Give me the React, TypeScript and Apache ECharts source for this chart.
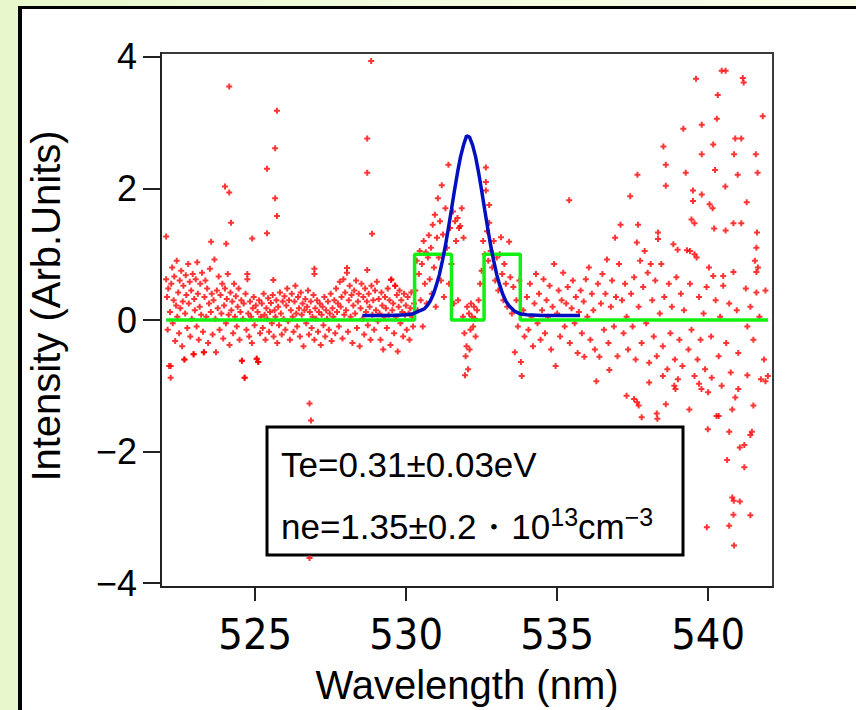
import React, { useEffect, useRef } from "react";
import * as echarts from "echarts";

// ---- axis ticks ----
const xTicks = [525, 530, 535, 540];
const yTicks = [-4, -2, 0, 2, 4];

// ---- green step (instrument function) ----
const stepX = [522.05, 530.28, 530.28, 531.5, 531.5, 532.58, 532.58, 533.78, 533.78, 541.99];
const stepY = [0, 0, 1, 1, 0, 0, 1, 1, 0, 0];

// ---- blue fitted curve ----
const fitX = [528.55, 529.0, 529.5, 530.0, 530.2, 530.4, 530.6, 530.7, 530.8, 530.9, 531.0, 531.1, 531.2, 531.3, 531.4, 531.5, 531.6, 531.7, 531.8, 531.9, 532.0, 532.1, 532.2, 532.3, 532.4, 532.5, 532.6, 532.7, 532.8, 532.9, 533.0, 533.1, 533.2, 533.3, 533.4, 533.6, 533.8, 534.0, 534.5, 535.0, 535.76];
const fitY = [0.07, 0.07, 0.07, 0.08, 0.09, 0.13, 0.17, 0.22, 0.29, 0.39, 0.53, 0.69, 0.90, 1.13, 1.40, 1.68, 1.97, 2.24, 2.48, 2.66, 2.80, 2.78, 2.66, 2.48, 2.24, 1.97, 1.68, 1.40, 1.13, 0.90, 0.69, 0.53, 0.39, 0.29, 0.22, 0.13, 0.09, 0.08, 0.07, 0.07, 0.07];

// ---- measured points ----
const pointsLeft: number[][] = [
  [522.05, 0.62], [522.08, 0.35], [522.1, -0.15], [522.12, 0.48], [522.15, -0.7], [522.18, 0.12], [522.2, -0.88], [522.22, 0.55], [522.25, 0.8], [522.27, -0.05],
  [522.3, 0.3], [522.32, 0.66], [522.35, -0.32], [522.38, 0.22], [522.4, 0.9], [522.42, 0.05], [522.45, 0.42], [522.48, -0.2], [522.5, 0.6], [522.52, 0.18],
  [522.55, 0.75], [522.58, -0.4], [522.6, 0.28], [522.62, 0.52], [522.65, -0.6], [522.68, 0.1], [522.7, 0.68], [522.72, 0.38], [522.75, -0.12], [522.78, 0.85],
  [522.8, 0.25], [522.83, 0.58], [522.85, -0.25], [522.88, 0.45], [522.9, 0.02], [522.93, 0.7], [522.96, -0.52], [522.98, 0.32], [523.0, 0.15], [523.03, 0.62],
  [523.06, -0.1], [523.08, 0.88], [523.1, 0.4], [523.13, -0.3], [523.16, 0.2], [523.18, 0.55], [523.21, 0.08], [523.24, 0.72], [523.27, -0.18], [523.3, -0.49],
  [523.32, 0.35], [523.35, 0.6], [523.38, 0.05], [523.41, 0.48], [523.44, -0.35], [523.47, 0.25], [523.5, 0.78], [523.53, 0.12], [523.56, 0.4], [523.59, -0.22],
  [523.62, 0.3], [523.65, 0.92], [523.68, 0.02], [523.7, -0.49], [523.73, 0.45], [523.76, 0.18], [523.79, 0.66], [523.82, -0.15], [523.85, 0.38], [523.88, 0.1],
  [523.91, 0.55], [523.94, -0.28], [523.97, 0.22], [524.0, 0.48], [524.03, -0.05], [524.06, 0.32], [524.09, 0.7], [524.12, 0.08], [524.15, -0.38], [524.18, 0.42],
  [524.21, 0.15], [524.24, 0.28], [524.27, -0.2], [524.3, 0.55], [524.33, 0.05], [524.36, 0.36], [524.39, -0.1], [524.42, 0.2], [524.45, 0.48], [524.48, -0.3],
  [524.51, 0.12], [524.54, 0.3], [524.56, -0.62], [524.59, 0.02], [524.62, 0.25], [524.65, -0.88], [524.68, 0.4], [524.71, -0.15], [524.74, 0.62], [524.77, 0.1],
  [524.8, -0.25], [524.83, 0.28], [524.86, 0.05], [524.89, -0.35], [524.92, 0.18], [524.95, 0.35], [524.98, -0.08], [525.02, 0.22], [525.05, -0.59], [525.08, 0.12],
  [525.1, -0.64], [525.13, 0.3], [525.16, -0.2], [525.19, 0.05], [525.22, 0.25], [525.25, -0.12], [525.28, 0.4], [525.31, 0.08], [525.34, -0.3], [525.37, 0.18],
  [525.4, 0.02], [525.43, 0.33], [525.46, -0.18], [525.49, 0.12], [525.52, 0.26], [525.55, -0.05], [525.58, 0.38], [525.61, -0.25], [525.64, 0.15], [525.67, 0.05],
  [525.7, 0.3], [525.73, -0.35], [525.76, 0.2], [525.79, -0.08], [525.82, 0.42], [525.85, 0.1], [525.88, -0.22], [525.91, 0.28], [525.94, 0.02], [525.97, 0.36],
  [526.0, -0.15], [526.03, 0.22], [526.06, 0.48], [526.09, -0.02], [526.12, 0.3], [526.15, -0.3], [526.18, 0.15], [526.21, 0.4], [526.24, 0.05], [526.27, -0.18],
  [526.3, 0.28], [526.33, 0.52], [526.36, 0.1], [526.39, -0.1], [526.42, 0.35], [526.45, 0.18], [526.48, -0.25], [526.51, 0.42], [526.54, 0.08], [526.57, 0.25],
  [526.6, -0.4], [526.63, 0.15], [526.66, 0.32], [526.69, -0.05], [526.72, 0.2], [526.75, 0.45], [526.78, -0.22], [526.81, 0.12], [526.84, 0.28], [526.87, -0.12],
  [526.9, 0.05], [526.93, 0.38], [526.96, -0.3], [526.99, 0.18], [527.02, 0.02], [527.05, 0.3], [527.08, -0.18], [527.11, 0.12], [527.14, 0.25], [527.17, -0.38],
  [527.2, 0.08], [527.23, 0.2], [527.26, -0.08], [527.29, 0.35], [527.32, -0.25], [527.35, 0.15], [527.38, 0.02], [527.41, 0.28], [527.44, -0.15], [527.47, 0.1],
  [527.5, 0.4], [527.53, -0.32], [527.56, 0.18], [527.59, 0.05], [527.62, 0.3], [527.65, -0.2], [527.68, 0.48], [527.71, 0.12], [527.74, 0.25], [527.77, -0.1],
  [527.8, 0.58], [527.83, 0.2], [527.86, 0.35], [527.89, -0.28], [527.92, 0.62], [527.95, 0.08], [527.98, 0.42], [528.01, 0.15], [528.04, 0.72], [528.07, -0.18],
  [528.1, 0.3], [528.13, 0.52], [528.16, 0.05], [528.19, 0.38], [528.22, -0.35], [528.25, 0.22], [528.28, 0.45], [528.31, 0.1], [528.34, 0.6], [528.37, -0.12],
  [528.4, 0.28], [528.43, 0.4], [528.46, -0.4], [528.49, 0.18], [528.52, 0.55], [528.55, 0.02], [528.58, 0.35], [528.61, -0.22], [528.64, 0.48], [528.67, 0.12],
  [528.7, 0.28], [528.73, -0.08], [528.76, 0.4], [528.79, 0.2], [528.82, -0.3], [528.85, 0.52], [528.88, 0.08], [528.91, 0.3], [528.94, -0.15], [528.97, 0.45],
  [529.0, 0.15], [529.03, 0.58], [529.06, -0.02], [529.09, 0.32], [529.12, 0.1], [529.15, -0.3], [529.18, 0.42], [529.21, 0.22], [529.24, -0.45], [529.27, 0.05],
  [529.3, 0.35], [529.33, 0.18], [529.36, -0.12], [529.39, 0.48], [529.42, 0.08], [529.45, 0.3], [529.48, -0.38], [529.51, 0.62], [529.54, 0.15], [529.57, 0.25],
  [529.6, -0.2], [529.63, 0.52], [529.66, 0.05], [529.69, 0.38], [529.72, -0.48], [529.75, 0.2], [529.78, 0.45], [529.81, -0.05], [529.84, 0.3], [529.87, 0.12],
  [529.9, -0.25], [529.93, 0.4], [529.96, 0.08], [529.99, 0.22], [530.02, -0.15], [530.05, 0.35], [530.08, 0.1], [530.11, -0.3], [530.14, 0.18], [530.17, 0.42],
  [530.2, 0.05], [530.23, -0.1], [530.26, 0.25],
];

const outliersLeft: number[][] = [
  [524.14, 3.55], [525.72, 3.18], [525.66, 2.61], [525.39, 2.3], [525.66, 1.85], [525.72, 1.58], [524.0, 2.03], [524.14, 1.94], [524.2, 1.48], [525.39, 1.32],
  [524.9, 1.24], [524.04, 1.16], [523.54, 1.19], [522.05, 1.27], [528.84, 3.94], [528.71, 2.76], [528.71, 2.24], [528.87, 1.31], [526.96, 0.7], [526.96, 0.78],
  [525.6, 0.61], [524.74, 0.7], [528.04, 0.79], [528.71, 0.76], [529.5, 0.61], [529.64, 0.52], [526.8, -1.27], [526.85, -1.53], [526.8, -3.62], [522.2, -0.7],
  [522.66, -0.6], [522.96, -0.52], [523.3, -0.49], [524.56, -0.62], [525.05, -0.59], [525.1, -0.64], [524.65, -0.88],
];

const pointsPeak: number[][] = [
  [530.3, 0.45], [530.35, 0.9], [530.38, 0.15], [530.42, 0.7], [530.45, 1.05], [530.48, 0.3], [530.52, 0.85], [530.55, -0.1], [530.58, 1.2], [530.62, 0.55],
  [530.65, 1.03], [530.68, 0.25], [530.72, 0.95], [530.75, 1.29], [530.78, 0.62], [530.82, 1.1], [530.85, 0.4], [530.88, 1.45], [530.92, 0.8], [530.95, 1.6],
  [530.98, 0.2], [531.02, 1.25], [531.05, 1.85], [531.08, 0.95], [531.12, 1.5], [531.15, 0.6], [531.18, 2.05], [531.22, 1.3], [531.25, 0.35], [531.3, 1.7],
  [531.35, 1.1], [531.4, 2.36], [531.42, 0.55], [531.45, 1.4], [531.5, 0.85], [531.55, 1.65], [531.58, 0.25], [531.62, 1.5], [531.65, 1.2], [531.7, 1.55],
  [531.72, 0.3], [531.75, 1.4], [531.79, 1.43], [531.84, 1.7], [531.88, 0.05], [531.9, 1.25], [531.93, -0.2], [531.95, -0.84], [531.97, -0.55], [532.0, -0.4],
  [532.02, 0.2], [532.05, -0.75], [532.08, 0.1], [532.1, -0.45], [532.13, -0.15], [532.15, 0.25], [532.18, 0.05], [532.22, -0.1], [532.25, 0.2], [532.28, 0.02],
  [532.3, -0.25], [532.35, 0.15], [532.4, 0.3], [532.45, 0.55], [532.5, 0.75], [532.55, 1.2], [532.6, 1.0], [532.64, 2.32], [532.64, 2.1], [532.64, 1.97],
  [532.68, 1.35], [532.72, 0.9], [532.75, 1.75], [532.75, 1.48], [532.8, 1.05], [532.85, 0.8], [532.9, 1.2], [532.95, 0.6], [533.0, 0.95], [533.05, 0.45],
  [533.1, 1.0], [533.14, 1.26], [533.18, 0.7], [533.22, 0.3], [533.25, 0.85], [533.3, 0.55], [533.35, 0.2], [533.41, 1.19], [533.45, 0.65], [533.5, 0.1],
  [533.55, 0.5], [533.6, -0.49], [533.65, 0.3], [533.7, -0.1], [533.75, 0.6], [533.8, -0.64], [533.83, -0.85], [533.88, 0.15], [533.92, -0.25],
];

const pointsRight: number[][] = [
  [534.0, 0.35], [534.05, -0.15], [534.1, 0.55], [534.15, 0.05], [534.2, -0.4], [534.25, 0.25], [534.3, 0.7], [534.35, -0.05], [534.4, 0.4], [534.45, -0.3],
  [534.5, 0.15], [534.55, 0.62], [534.6, -0.2], [534.65, 0.3], [534.7, 0.05], [534.75, 0.52], [534.8, -0.45], [534.85, 0.2], [534.9, 0.85], [534.95, -0.7],
  [535.0, 0.1], [535.05, 0.45], [535.1, -0.25], [535.15, 0.3], [535.2, 0.72], [535.25, -0.1], [535.3, 0.25], [535.35, 0.5], [535.4, 1.82], [535.42, -0.35],
  [535.48, 0.18], [535.52, 0.6], [535.58, -0.05], [535.62, 0.35], [535.68, -0.5], [535.72, 0.12], [535.78, 0.45], [535.82, -0.2], [535.88, 0.28], [535.9, -0.56],
  [535.95, 0.62], [536.0, 0.05], [536.05, 0.8], [536.1, -0.3], [536.15, 0.4], [536.2, 0.15], [536.25, -0.45], [536.3, -0.93], [536.35, 0.55], [536.4, -0.56],
  [536.45, 0.25], [536.5, 0.7], [536.55, -0.15], [536.6, 0.4], [536.65, 0.92], [536.7, -0.35], [536.73, -0.76], [536.78, 0.2], [536.82, 0.6], [536.88, -0.1],
  [536.92, 1.25], [536.95, 0.35], [537.0, -0.55], [537.05, 0.85], [537.1, 1.45],
];

const pointsFar: number[][] = [
  [537.42, 1.88], [537.66, 2.21], [537.68, 1.45], [537.64, 1.18], [538.52, 2.64], [538.6, 2.36], [538.6, 2.04], [539.18, 2.91], [539.6, 3.67], [539.79, 2.97],
  [539.79, 2.52], [539.26, 2.24], [540.32, 3.42], [540.45, 3.79], [540.58, 3.79], [540.29, 3.06], [540.17, 2.67], [540.23, 2.28], [541.15, 3.68], [541.18, 3.61],
  [540.9, 2.76], [541.1, 2.76], [540.86, 2.52], [540.98, 2.21], [540.57, 2.03], [541.81, 3.1], [541.58, 2.52], [541.64, 2.24], [541.28, 1.79], [541.1, 1.47],
  [540.84, 1.47], [540.58, 1.36], [540.2, 1.39], [539.5, 1.97], [539.5, 1.81], [539.45, 1.53], [539.55, 1.47], [540.05, 1.76], [540.15, 1.7], [539.79, 1.91],
  [541.62, 1.33], [541.6, 1.1], [541.55, 0.9], [541.65, 0.8], [541.6, 0.73], [541.25, 0.48], [541.6, 0.42], [540.84, 0.73], [540.5, 0.67], [540.5, 0.52],
  [540.03, 0.8], [540.17, 0.67], [539.55, 1.0], [539.62, 0.95], [539.4, 1.05], [539.3, 1.06], [538.85, 1.15], [538.99, 1.07], [538.34, 1.23], [538.34, 1.33],
  [537.9, 1.05], [538.1, 0.85], [537.75, 0.9],
  [537.15, 0.3], [537.2, -0.2], [537.25, 0.55], [537.3, 0.05], [537.35, -0.45], [537.45, 0.4], [537.5, -0.1], [537.55, 0.65], [537.6, -0.6], [537.7, 0.2],
  [537.8, -0.35], [537.85, 0.5], [537.95, -0.05], [538.0, 0.72], [538.05, -0.65], [538.15, 0.3], [538.2, -0.25], [538.25, 0.6], [538.3, -0.55], [538.4, 0.1],
  [538.45, 0.85], [538.5, -0.4], [538.55, 0.35], [538.65, -0.75], [538.7, 0.55], [538.75, -0.2], [538.8, 0.2], [538.9, -0.6], [538.95, 0.65], [539.05, -0.3],
  [539.1, 0.4], [539.15, -0.7], [539.2, 0.15], [539.35, -0.45], [539.4, 0.55], [539.45, -0.15], [539.65, -0.6], [539.7, 0.35], [539.75, -0.3], [539.85, 0.1],
  [539.9, -0.75], [539.95, 0.5], [540.1, -0.25], [540.25, 0.3], [540.35, -0.55], [540.4, 0.05], [540.6, -0.35], [540.7, 0.25], [540.75, -0.8], [540.95, 0.15],
  [541.0, -0.5], [541.3, -0.1], [541.4, 0.2], [541.5, -0.3], [541.7, 0.05], [541.85, -0.6], [541.9, 0.45],
  [537.3, -1.15], [537.55, -1.2], [537.65, -1.25], [537.7, -1.3], [537.8, -1.48], [538.3, -1.42], [538.32, -1.5], [538.6, -1.28], [538.88, -1.0], [538.92, -1.05],
  [539.38, -1.36], [539.7, -0.97], [539.78, -1.05], [540.0, -1.1], [540.12, -0.88], [540.28, -1.46], [540.35, -1.46], [539.99, -1.66], [540.7, -1.7], [540.8, -1.36],
  [540.9, -1.18], [541.5, -1.3], [541.45, -1.7], [541.4, -1.75], [541.2, -1.9], [541.05, -1.94], [541.3, -0.84], [541.75, -0.9], [541.9, -0.93], [540.63, -2.13],
  [541.2, -2.24], [540.8, -2.7], [540.85, -2.75], [541.05, -2.76], [540.84, -2.96], [541.4, -2.97], [540.7, -3.13], [539.96, -3.15], [540.86, -3.43], [538.05, -0.95],
  [538.5, -0.85], [539.0, -0.9], [539.55, -0.85], [540.45, -1.0], [541.0, -1.05], [541.98, -0.85],
];

const infoLine1 = "Te=0.31±0.03eV";
const infoLine2 = "{a|ne=1.35±0.2・10}{s|13}{a|cm}{s|−3}";

const PLUS = "path://M2,0L4,0L4,2L6,2L6,4L4,4L4,6L2,6L2,4L0,4L0,2L2,2Z";

export default function App() {
  const ref = useRef<HTMLDivElement>(null);
  useEffect(() => {
    document.body.style.margin = "0";
    const chart = echarts.init(ref.current!, null, { renderer: "svg" });
    const allPoints = [...pointsLeft, ...outliersLeft, ...pointsPeak, ...pointsRight, ...pointsFar];
    const tickFont = "'Liberation Sans Narrow', 'DejaVu Sans Condensed', 'Liberation Sans', sans-serif";
    const mainFont = "'Liberation Sans', Arial, sans-serif";
    chart.setOption({
      animation: false,
      backgroundColor: "transparent",
      grid: {
        left: 161, top: 53, width: 612, height: 536,
        show: true, borderColor: "#3a3a3a", borderWidth: 2, backgroundColor: "transparent",
      },
      xAxis: {
        type: "value", min: 521.88, max: 542.15,
        splitLine: { show: false },
        axisLine: { show: true, onZero: false, lineStyle: { color: "#222", width: 2 } },
        axisTick: { show: true, length: 14, lineStyle: { color: "#222", width: 2 }, customValues: xTicks },
        axisLabel: { customValues: xTicks, color: "#000", fontSize: 43, fontFamily: tickFont, margin: 25 },
        name: "Wavelength (nm)", nameLocation: "middle", nameGap: 78,
        nameTextStyle: { color: "#000", fontSize: 40, fontFamily: mainFont },
      },
      yAxis: {
        type: "value", min: -4.06, max: 4.06,
        splitLine: { show: false },
        axisLine: { show: true, onZero: false, lineStyle: { color: "#222", width: 2 } },
        axisTick: { show: true, length: 18, lineStyle: { color: "#222", width: 2 }, customValues: yTicks },
        axisLabel: {
          customValues: yTicks, color: "#000", fontSize: 36, fontFamily: mainFont, margin: 24,
          formatter: (v: number) => (v < 0 ? "−" + Math.abs(v) : String(v)),
        },
        name: "Intensity (Arb.Units)", nameLocation: "middle", nameGap: 95, nameRotate: 90,
        nameTextStyle: { color: "#000", fontSize: 40, fontFamily: mainFont, padding: [0, 0, 0, 28] },
      },
      series: [
        {
          type: "scatter", data: allPoints, symbol: PLUS, symbolSize: 6,
          itemStyle: { color: "#ff0000" }, z: 2,
        },
        {
          type: "line", data: stepX.map((x, i) => [x, stepY[i]]), showSymbol: false,
          lineStyle: { color: "#12f012", width: 3.5 }, z: 3,
        },
        {
          type: "line", data: fitX.map((x, i) => [x, fitY[i]]), showSymbol: false, smooth: false,
          lineStyle: { color: "#0010c0", width: 3.5 }, z: 4,
        },
      ],
      graphic: [
        {
          type: "group", z: 100,
          children: [
            { type: "rect", shape: { x: 267, y: 427, width: 416, height: 128 }, style: { fill: "#fff", stroke: "#000", lineWidth: 3 } },
            {
              type: "text", x: 281, y: 464,
              style: { text: infoLine1, fontSize: 35, fontFamily: mainFont, fill: "#000", verticalAlign: "middle" },
            },
            {
              type: "text", x: 281, y: 524,
              style: {
                text: infoLine2, fill: "#000", verticalAlign: "middle",
                rich: {
                  a: { fontSize: 35, fontFamily: mainFont, lineHeight: 40, verticalAlign: "bottom" },
                  s: { fontSize: 25, fontFamily: mainFont, lineHeight: 22, verticalAlign: "top" },
                },
              },
            },
          ],
        },
      ],
    });
    return () => chart.dispose();
  }, []);
  return (
    <div style={{ position: "relative", width: 856, height: 710, overflow: "hidden", background: "linear-gradient(90deg, #e8f8cc 0%, #f3fcdf 50%, #fafee9 100%)" }}>
      <div style={{ position: "absolute", left: 18, top: 6, width: 860, height: 720, background: "#fff", borderLeft: "4px solid #000", borderTop: "3px solid #000" }} />
      <div ref={ref} style={{ position: "absolute", left: 0, top: 0, width: 856, height: 710 }} />
    </div>
  );
}
